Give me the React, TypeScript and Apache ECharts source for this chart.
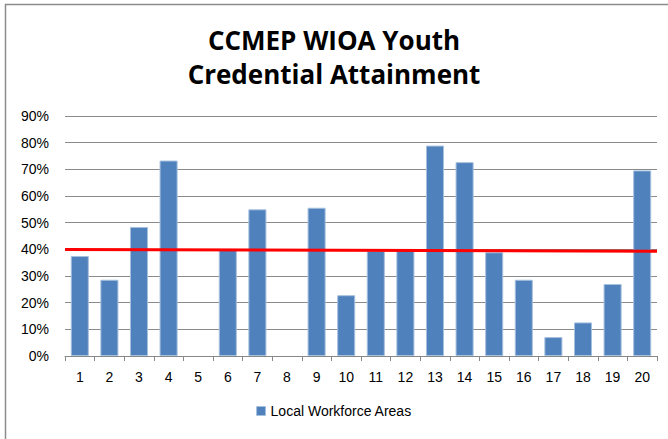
import React, { useEffect, useRef } from "react";
import * as echarts from "echarts";

const categories = ["1","2","3","4","5","6","7","8","9","10","11","12","13","14","15","16","17","18","19","20"];
const values = [0.375, 0.286, 0.484, 0.733, 0, 0.399, 0.55, 0, 0.556, 0.228, 0.394, 0.397, 0.789, 0.727, 0.389, 0.286, 0.071, 0.126, 0.27, 0.696];
const targetLine = [[0, 0.399], [1, 0.393]];
const seriesName = "Local Workforce Areas";
const titleLines = ["CCMEP WIOA Youth", "Credential Attainment"];

export default function App() {
  const ref = useRef<HTMLDivElement>(null);
  useEffect(() => {
    if (!ref.current) return;
    const chart = echarts.init(ref.current, null, { renderer: "svg" });
    const font = "Liberation Sans, Arial, sans-serif";
    chart.setOption({
      animation: false,
      backgroundColor: "#ffffff",
      title: {
        text: titleLines.join("\n"),
        left: "center",
        top: 18,
        textStyle: { fontFamily: "Open Sans", fontWeight: "bold", fontSize: 26, lineHeight: 34, color: "#000" },
      },
      graphic: [
        { type: "rect", shape: { x: 5.5, y: 4.5, width: 700, height: 500 }, style: { fill: "none", stroke: "#8c8c8c", lineWidth: 1.5 }, silent: true },
      ],
      legend: {
        bottom: 16,
        left: "center",
        itemWidth: 9,
        itemHeight: 9,
        icon: "rect",
        itemGap: 4,
        textStyle: { fontFamily: font, fontSize: 14, color: "#000" },
        data: [{ name: seriesName, itemStyle: { borderColor: "#A7C0DE", borderWidth: 1 } }],
      },
      grid: { left: 65, right: 11, top: 116, bottom: 83, containLabel: false },
      xAxis: [
        {
          type: "category",
          data: categories,
          axisLine: { lineStyle: { color: "#888", width: 1 } },
          axisTick: { show: true, length: 5, lineStyle: { color: "#888" }, alignWithLabel: false },
          axisLabel: { fontFamily: font, fontSize: 14, color: "#000", margin: 14 },
        },
        { type: "value", min: 0, max: 1, show: false },
      ],
      yAxis: {
        type: "value",
        min: 0,
        max: 0.9,
        interval: 0.1,
        axisLine: { show: false },
        axisTick: { show: false },
        splitLine: { lineStyle: { color: "#8a8a8a", width: 1 } },
        axisLabel: {
          fontFamily: font,
          fontSize: 14,
          color: "#000",
          margin: 16,
          formatter: (v: number) => Math.round(v * 100) + "%",
        },
      },
      series: [
        {
          name: seriesName,
          type: "bar",
          data: values.map((v) => (v > 0 ? v : { value: v, itemStyle: { borderWidth: 0 } })),
          barCategoryGap: "39%",
          itemStyle: { color: "#4F81BD", borderColor: "#A7C0DE", borderWidth: 1 },
        },
        {
          name: "target",
          type: "line",
          xAxisIndex: 1,
          data: targetLine,
          symbol: "none",
          lineStyle: { color: "#FF0000", width: 3 },
          z: 5,
        },
      ],
    });
    return () => chart.dispose();
  }, []);
  return <div ref={ref} style={{ position: "fixed", left: 0, top: 0, width: 668, height: 439 }} />;
}
